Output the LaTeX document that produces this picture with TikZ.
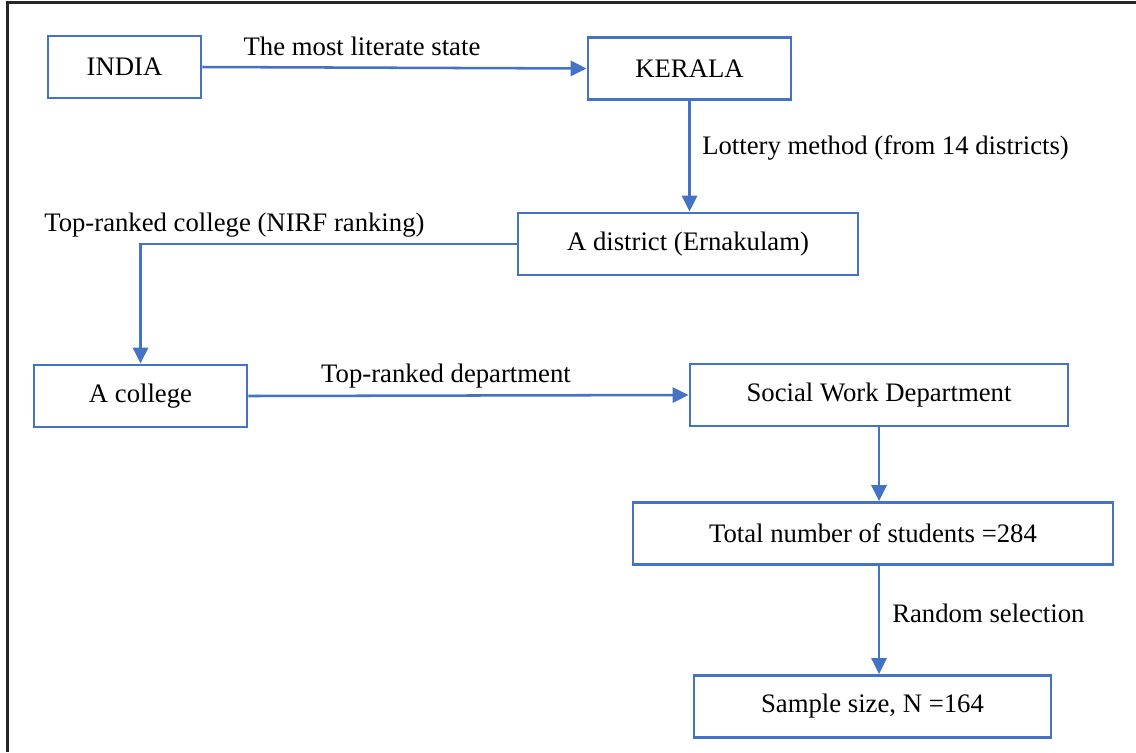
\documentclass[tikz,border=0pt]{standalone}
\usepackage{fontspec}
\setmainfont{Liberation Serif}
\usepackage{tikz}
\usetikzlibrary{arrows.meta}
\definecolor{boxblue}{RGB}{68,114,196}

\begin{document}
\begin{tikzpicture}[x=0.025cm,y=-0.025cm]
\tikzset{font=\fontsize{19}{23}\selectfont}
\tikzstyle{box}=[rectangle,draw=boxblue,line width=2pt,inner sep=0pt,minimum height=1.55cm]
\tikzstyle{lbl}=[inner sep=0pt]
\tikzstyle{link}=[draw=boxblue,line width=1.8pt,-{Triangle[length=0.4cm,width=0.38cm]}]
\useasboundingbox (0,0) rectangle (1136,752);
\draw[line width=1.6pt,black!85] (7.5,752) -- (7.5,2.5) -- (1136,2.5);
% boxes
\node[box,minimum width=3.825cm] (india) at (124.5,67) {INDIA};
\node[box,minimum width=5.075cm] (kerala) at (689.5,68.5) {KERALA};
\node[box,minimum width=8.5cm] (district) at (688,244) {A district (Ernakulam)};
\node[box,minimum width=5.325cm] (college) at (140.5,396) {A college};
\node[box,minimum width=9.45cm] (social) at (879,395) {Social Work Department};
\node[box,minimum width=12cm] (total) at (873,533.5) {Total number of students =284};
\node[box,minimum width=8.925cm] (sample) at (872.5,706.5) {Sample size, N =164};
% labels
\node[lbl] (lit) at (362,46) {The most literate state};
\node[lbl,anchor=west] (lottery) at (702,148) {Lottery method (from 14 districts)};
\node[lbl,anchor=west] (nirf) at (44,225) {Top-ranked college (NIRF ranking)};
\node[lbl] (dept) at (446,376) {Top-ranked department};
\node[lbl,anchor=west] (random) at (892,613) {Random selection};
% arrows
\draw[link] (india.east) -- (kerala.west);
\draw[link] (kerala.south) -- (kerala.south |- district.north);
\draw[link] (district.west) -| (college.north);
\draw[link] (college.east) -- (social.west);
\draw[link] (social.south) -- (social.south |- total.north);
\draw[link] (social.south |- total.south) -- (social.south |- sample.north);
\end{tikzpicture}
\end{document}
